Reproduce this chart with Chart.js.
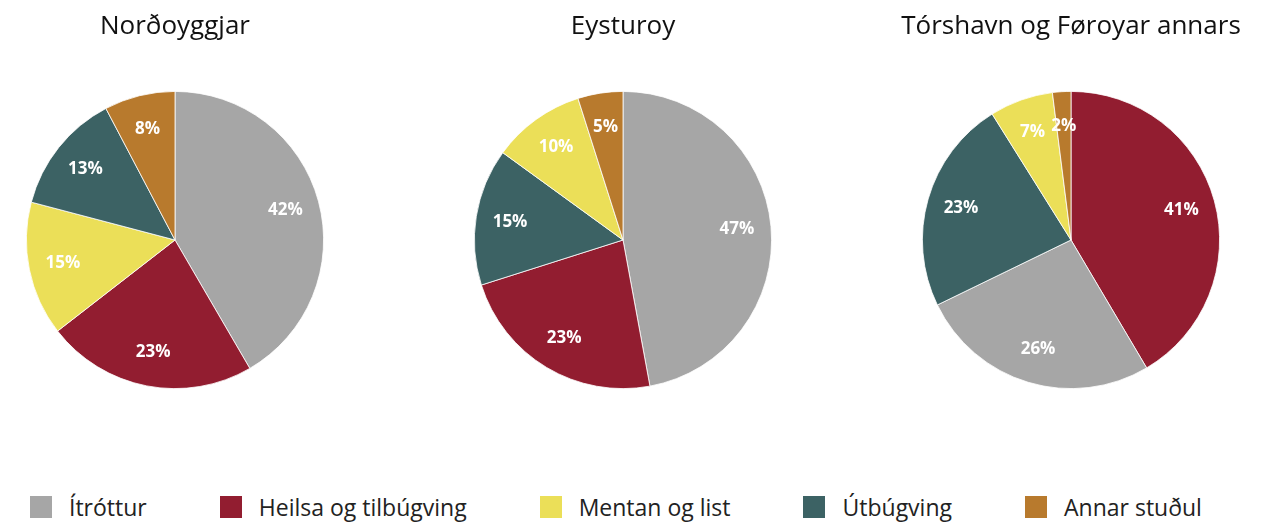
<!DOCTYPE html>
<html>
<head>
<meta charset="utf-8">
<script src="https://cdn.jsdelivr.net/npm/chart.js"></script>
<style>
  html, body { margin: 0; padding: 0; background: #fff; }
  #wrap { position: relative; width: 1281px; height: 523px; font-family: "Open Sans", sans-serif; }
  .pie { position: absolute; top: 0; width: 350px; height: 389px; }
  #legend { position: absolute; left: 30px; top: 492px; height: 30px; display: flex; align-items: center; font-size: 23px; color: #222; }
  #legend .item { display: flex; align-items: center; margin-right: 73px; }
  #legend .box { width: 22px; height: 22px; margin-right: 17px; }
</style>
</head>
<body>
<div id="wrap">
  <div class="pie" style="left:0px"><canvas id="c1"></canvas></div>
  <div class="pie" style="left:448px"><canvas id="c2"></canvas></div>
  <div class="pie" style="left:896px"><canvas id="c3"></canvas></div>
  <div id="legend"></div>
</div>
<script>
"use strict";
// Bólkar og litir
const categories = ['Ítróttur', 'Heilsa og tilbúgving', 'Mentan og list', 'Útbúgving', 'Annar stuðul'];
const colors = ['#a6a6a6', '#921d30', '#ebdf58', '#3c6264', '#b87a2d'];

// Hvørt økið: bólkar í raðfylgju og prosentir
const titles = ['Norðoyggjar', 'Eysturoy', 'Tórshavn og Føroyar annars'];
const order1 = [0, 1, 2, 3, 4];
const values1 = [41.6, 22.9, 14.6, 13.2, 7.7];
const labels1 = ['42%', '23%', '15%', '13%', '8%'];
const order2 = [0, 1, 3, 2, 4];
const values2 = [47.1, 23.0, 14.9, 10.1, 4.9];
const labels2 = ['47%', '23%', '15%', '10%', '5%'];
const order3 = [1, 0, 3, 2, 4];
const values3 = [41.5, 26.3, 23.3, 6.9, 2.0];
const labels3 = ['41%', '26%', '23%', '7%', '2%'];

// Tekstur inni í skivunum
const sliceLabels = {
  id: 'sliceLabels',
  afterDatasetsDraw(chart, args, opts) {
    const ctx = chart.ctx;
    const meta = chart.getDatasetMeta(0);
    ctx.save();
    ctx.font = 'bold 17px "Open Sans", sans-serif';
    ctx.fillStyle = '#fff';
    ctx.textAlign = 'center';
    ctx.textBaseline = 'middle';
    meta.data.forEach((arc, i) => {
      const mid = (arc.startAngle + arc.endAngle) / 2;
      const r = arc.outerRadius * 0.77;
      ctx.fillText(opts.texts[i], arc.x + Math.cos(mid) * r, arc.y + Math.sin(mid) * r);
    });
    ctx.restore();
  }
};

function makePie(id, title, order, values, texts) {
  new Chart(document.getElementById(id), {
    type: 'pie',
    data: {
      labels: order.map(i => categories[i]),
      datasets: [{
        data: values,
        backgroundColor: order.map(i => colors[i]),
        borderColor: '#fff',
        borderWidth: 0.8
      }]
    },
    options: {
      responsive: true,
      maintainAspectRatio: false,
      animation: false,
      layout: { padding: 0 },
      plugins: {
        legend: { display: false },
        tooltip: { enabled: false },
        title: {
          display: true,
          text: title,
          color: '#111',
          font: { family: '"Open Sans", sans-serif', size: 26, weight: 'normal', lineHeight: 1.2 },
          padding: { top: 11.4, bottom: 48.4 }
        },
        sliceLabels: { texts: texts }
      }
    },
    plugins: [sliceLabels]
  });
}

makePie('c1', titles[0], order1, values1, labels1);
makePie('c2', titles[1], order2, values2, labels2);
makePie('c3', titles[2], order3, values3, labels3);

// Felags tekningarforklaring
const legend = document.getElementById('legend');
categories.forEach((name, i) => {
  const item = document.createElement('div');
  item.className = 'item';
  item.innerHTML = '<span class="box" style="background:' + colors[i] + '"></span><span>' + name + '</span>';
  legend.appendChild(item);
});
</script>
</body>
</html>
